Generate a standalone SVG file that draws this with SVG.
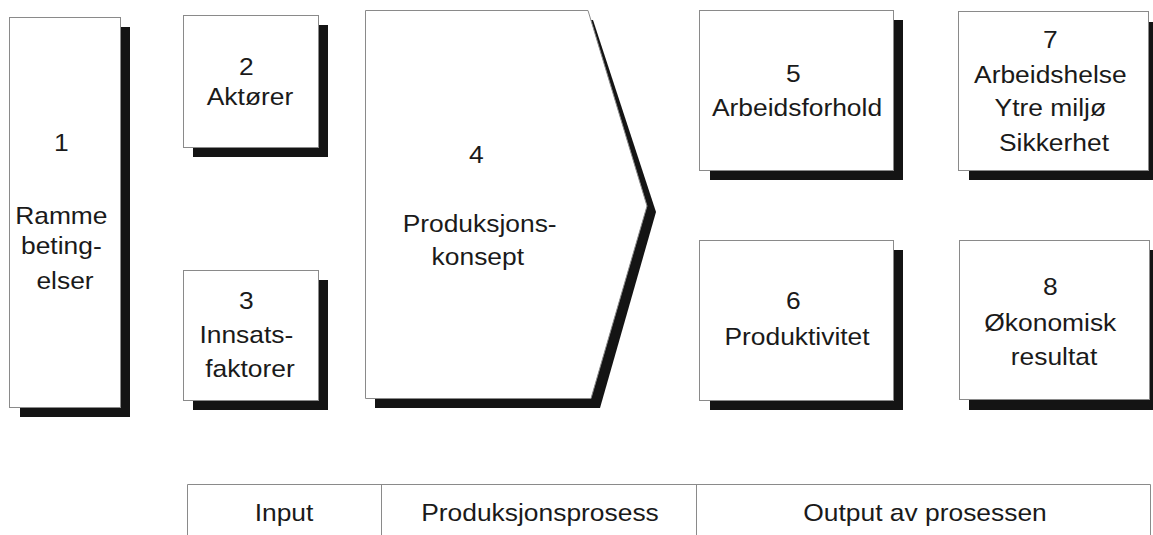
<svg xmlns="http://www.w3.org/2000/svg" width="1153" height="535" viewBox="0 0 1153 535">
  <style>
    .box { fill: #ffffff; stroke: #8a8a8a; stroke-width: 1; }
    .shadow { fill: #141414; stroke: none; }
    .t { font-family: "Liberation Sans", Arial, sans-serif; font-size: 24px; fill: #1a1a1a; text-anchor: middle; }
    .grid { fill: none; stroke: #8a8a8a; stroke-width: 1; }
  </style>
  <rect width="1153" height="535" fill="#ffffff"/>

  <!-- 1: Rammebetingelser -->
  <g id="node1">
    <rect class="shadow" x="20" y="27" width="110" height="390"/>
    <rect class="box" x="9.5" y="17.5" width="111" height="390"/>
    <text class="t" transform="translate(65,0) scale(1.1,1)">
      <tspan x="0" y="151">1</tspan>
      <tspan x="0" y="224">Ramme</tspan>
      <tspan x="0" y="254">beting-</tspan>
      <tspan x="0" y="289">elser</tspan>
    </text>
  </g>

  <!-- 2: Aktører -->
  <g id="node2">
    <rect class="shadow" x="193" y="25" width="135" height="132"/>
    <rect class="box" x="183.5" y="15.5" width="135" height="132"/>
    <text class="t" transform="translate(250,0) scale(1.1,1)">
      <tspan x="0" y="75">2</tspan>
      <tspan x="0" y="105">Aktører</tspan>
    </text>
  </g>

  <!-- 3: Innsatsfaktorer -->
  <g id="node3">
    <rect class="shadow" x="193" y="280" width="135" height="130"/>
    <rect class="box" x="183.5" y="270.5" width="135" height="130"/>
    <text class="t" transform="translate(250,0) scale(1.1,1)">
      <tspan x="0" y="309">3</tspan>
      <tspan x="0" y="343">Innsats-</tspan>
      <tspan x="0" y="377">faktorer</tspan>
    </text>
  </g>

  <!-- 4: Produksjonskonsept (arrow-shaped block) -->
  <g id="node4">
    <polygon class="shadow" points="375,20 593,20 656,212 600,408 375,408"/>
    <polygon class="box" points="365.5,10.5 588,10.5 647,206 591,398.5 365.5,398.5"/>
    <text class="t" transform="translate(480,0) scale(1.1,1)">
      <tspan x="0" y="163">4</tspan>
      <tspan x="3" y="232">Produksjons-</tspan>
      <tspan x="-2" y="265">konsept</tspan>
    </text>
  </g>

  <!-- 5: Arbeidsforhold -->
  <g id="node5">
    <rect class="shadow" x="710" y="20" width="193" height="160"/>
    <rect class="box" x="699.5" y="10.5" width="194" height="160"/>
    <text class="t" transform="translate(797,0) scale(1.1,1)">
      <tspan x="0" y="82">5</tspan>
      <tspan x="0" y="116">Arbeidsforhold</tspan>
    </text>
  </g>

  <!-- 6: Produktivitet -->
  <g id="node6">
    <rect class="shadow" x="710" y="250" width="193" height="160"/>
    <rect class="box" x="699.5" y="240.5" width="194" height="160"/>
    <text class="t" transform="translate(797,0) scale(1.1,1)">
      <tspan x="0" y="309">6</tspan>
      <tspan x="0" y="345">Produktivitet</tspan>
    </text>
  </g>

  <!-- 7: Arbeidshelse / Ytre miljø / Sikkerhet -->
  <g id="node7">
    <rect class="shadow" x="969" y="22" width="190" height="158"/>
    <rect class="box" x="958.5" y="11.5" width="190" height="159"/>
    <text class="t" transform="translate(1054,0) scale(1.1,1)">
      <tspan x="0" y="48">7</tspan>
      <tspan x="0" y="83">Arbeidshelse</tspan>
      <tspan x="0" y="116">Ytre miljø</tspan>
      <tspan x="0" y="151">Sikkerhet</tspan>
    </text>
  </g>

  <!-- 8: Økonomisk resultat -->
  <g id="node8">
    <rect class="shadow" x="969" y="250" width="190" height="160"/>
    <rect class="box" x="959.5" y="240.5" width="190" height="159"/>
    <text class="t" transform="translate(1054,0) scale(1.1,1)">
      <tspan x="0" y="295">8</tspan>
      <tspan x="0" y="331">Økonomisk</tspan>
      <tspan x="0" y="365">resultat</tspan>
    </text>
  </g>

  <!-- phase legend along the bottom -->
  <g id="legend">
    <path class="grid" d="M187.5,540 V484.5 H1150.5 V540 M381.5,484.5 V540 M696.5,484.5 V540"/>
    <text class="t" transform="translate(284,0) scale(1.1,1)"><tspan x="0" y="521">Input</tspan></text>
    <text class="t" transform="translate(540,0) scale(1.1,1)"><tspan x="0" y="521">Produksjonsprosess</tspan></text>
    <text class="t" transform="translate(925,0) scale(1.1,1)"><tspan x="0" y="521">Output av prosessen</tspan></text>
  </g>

  <g id="connectors"></g>
</svg>
